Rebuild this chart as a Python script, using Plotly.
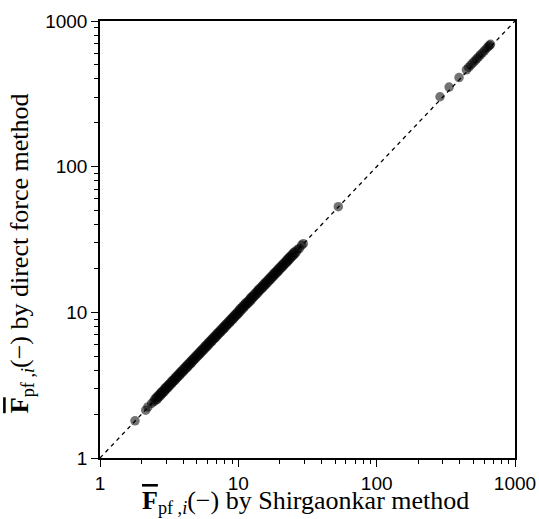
import plotly.graph_objects as go

# Sparse low-end points
x_low = [1.79, 2.14, 2.22, 2.36, 2.45]
y_low = [1.80, 2.13, 2.24, 2.37, 2.44]

# Dense band of samples between ~2.5 and ~26 (near the diagonal)
x_band = [2.52, 2.58, 2.63, 2.70, 2.76, 2.81, 2.88, 2.95, 3.01, 3.08, 3.15, 3.22,
          3.30, 3.37, 3.45, 3.53, 3.61, 3.70, 3.78, 3.87, 3.96, 4.05, 4.15, 4.24,
          4.34, 4.44, 4.55, 4.65, 4.76, 4.87, 4.99, 5.10, 5.22, 5.34, 5.47, 5.60,
          5.73, 5.86, 6.00, 6.14, 6.28, 6.43, 6.58, 6.73, 6.89, 7.05, 7.21, 7.38,
          7.55, 7.73, 7.91, 8.09, 8.28, 8.48, 8.67, 8.88, 9.08, 9.30, 9.51, 9.74,
          9.96, 10.2, 10.4, 10.7, 10.9, 11.2, 11.4, 11.7, 12.0, 12.3, 12.5, 12.8,
          13.1, 13.5, 13.8, 14.1, 14.4, 14.8, 15.1, 15.5, 15.8, 16.2, 16.6, 17.0,
          17.4, 17.8, 18.2, 18.6, 19.1, 19.5, 20.0, 20.5, 20.9, 21.4, 22.0, 22.5,
          23.0, 23.5, 24.1, 24.7, 25.3, 25.9]
y_band = [2.53, 2.57, 2.64, 2.69, 2.77, 2.82, 2.87, 2.96, 3.02, 3.07, 3.16, 3.21,
          3.31, 3.38, 3.44, 3.54, 3.62, 3.69, 3.79, 3.88, 3.95, 4.06, 4.16, 4.23,
          4.35, 4.45, 4.54, 4.66, 4.77, 4.86, 5.00, 5.11, 5.21, 5.35, 5.48, 5.59,
          5.74, 5.87, 5.99, 6.15, 6.29, 6.42, 6.59, 6.74, 6.88, 7.06, 7.22, 7.37,
          7.56, 7.74, 7.90, 8.10, 8.29, 8.47, 8.68, 8.89, 9.07, 9.31, 9.52, 9.73,
          9.97, 10.2, 10.5, 10.7, 11.0, 11.2, 11.5, 11.7, 12.0, 12.3, 12.6, 12.8,
          13.2, 13.5, 13.8, 14.2, 14.5, 14.8, 15.2, 15.5, 15.9, 16.2, 16.7, 17.0,
          17.5, 17.8, 18.3, 18.7, 19.1, 19.6, 20.1, 20.5, 21.0, 21.5, 22.0, 22.6,
          23.1, 23.6, 24.2, 24.8, 25.4, 26.0]

# Upper end of the band and isolated mid-range point
x_mid = [26.8, 27.6, 28.7, 29.5, 52.8]
y_mid = [27.0, 27.4, 28.9, 29.6, 53.1]

# High-value cluster
x_high = [287, 334, 394, 445, 462, 478, 495, 512, 528, 545, 562, 580, 600, 620, 640, 655, 665]
y_high = [302, 352, 409, 462, 480, 497, 515, 532, 550, 566, 585, 603, 624, 645, 666, 681, 692]

# Reference line y = x
line_x = [1, 1000]
line_y = [1, 1000]

tick_vals = [1, 10, 100, 1000]
tick_text = ["1", "10", "100", "1000"]
minor_vals = [m * d for d in (1, 10, 100) for m in range(2, 10)]

x_pts = x_low + x_mid + x_high
y_pts = y_low + y_mid + y_high

fig = go.Figure()
# Dense band: slightly larger markers so the overlap reads as a solid stripe
fig.add_trace(go.Scatter(
    x=x_band, y=y_band, mode="markers",
    marker=dict(size=11, color="black", opacity=0.55, line=dict(width=0)),
    showlegend=False, hoverinfo="skip",
))
fig.add_trace(go.Scatter(
    x=x_pts, y=y_pts, mode="markers",
    marker=dict(size=9.5, color="black", opacity=0.55, line=dict(width=0)),
    showlegend=False, hoverinfo="skip",
))
fig.add_trace(go.Scatter(
    x=line_x, y=line_y, mode="lines",
    line=dict(color="black", width=1.3, dash="4px,4px"),
    showlegend=False, hoverinfo="skip",
))

serif = "Liberation Serif"
sans = "Liberation Sans, Arial, sans-serif"

axis_common = dict(
    type="log", range=[0, 3], automargin=False,
    tickmode="array", tickvals=tick_vals, ticktext=tick_text,
    ticks="outside", ticklen=7, tickwidth=1.2, tickcolor="black",
    minor=dict(tickmode="array", tickvals=minor_vals, ticks="outside",
               ticklen=4, tickwidth=1, tickcolor="black", showgrid=False),
    showline=True, linecolor="black", linewidth=1.5, mirror=True,
    showgrid=False, zeroline=False,
    tickfont=dict(family=sans, size=19, color="black"),
)

overF = "<b><span style='text-decoration:overline'>F</span></b>"
sub = "<sub>pf ,<i>i</i></sub>"
title_font = dict(family=serif, size=26, color="black")

fig.update_layout(
    width=539, height=519,
    margin=dict(l=100, r=24, t=21, b=61),
    paper_bgcolor="white", plot_bgcolor="white",
    xaxis=axis_common,
    yaxis=axis_common,
    annotations=[
        dict(text=overF + sub + "(−) by Shirgaonkar method",
             xref="paper", yref="paper", x=0.494, y=-0.141,
             xanchor="center", yanchor="bottom", showarrow=False, font=title_font),
        dict(text=overF + sub + "(−) by direct force method",
             xref="paper", yref="paper", x=-0.19, y=0.469, textangle=-90,
             xanchor="center", yanchor="middle", showarrow=False, font=title_font),
    ],
)

fig.write_html("out.html")
